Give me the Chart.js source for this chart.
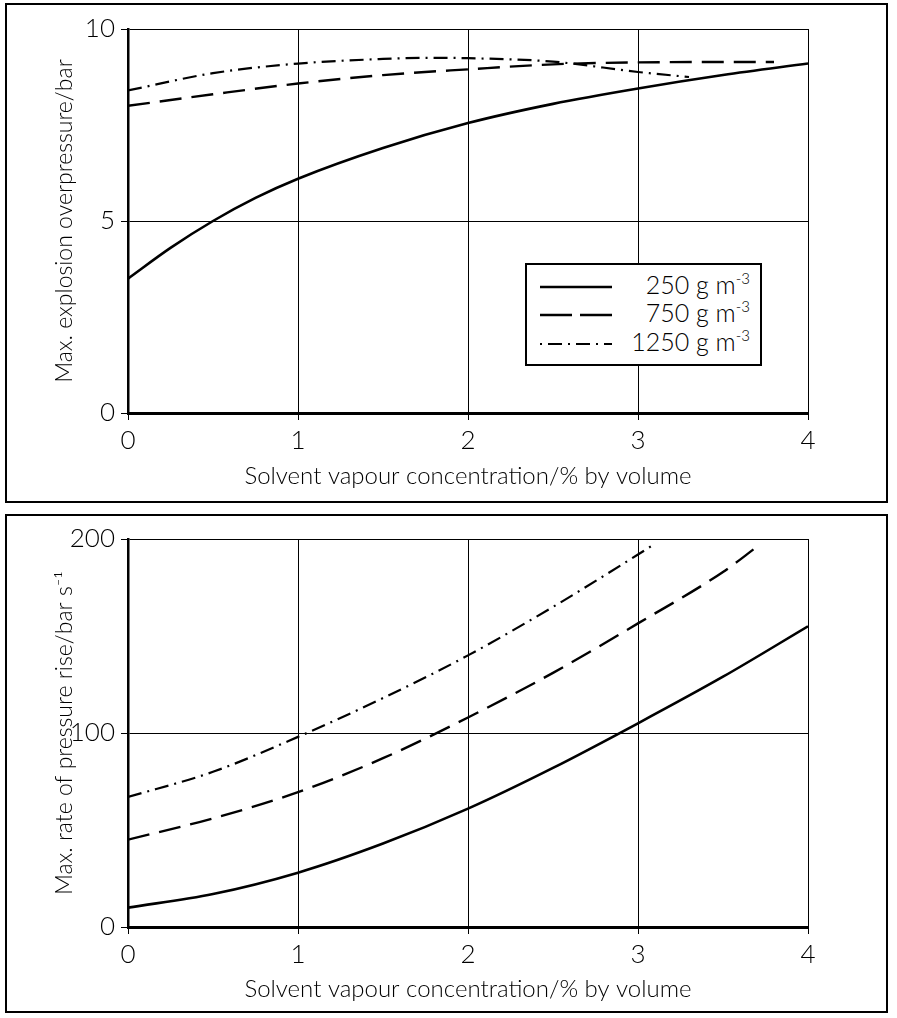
<!DOCTYPE html>
<html><head><meta charset="utf-8">
<script src="https://cdn.jsdelivr.net/npm/chart.js@4.4.1/dist/chart.umd.min.js"></script>
<style>
html,body{margin:0;padding:0;background:#fff;}
body{width:897px;height:1018px;position:relative;overflow:hidden;font-family:Lato,sans-serif;}
canvas{position:absolute;left:0;}
#c1{top:0;} #c2{top:510px;}
.frame{position:absolute;border:2px solid #000;pointer-events:none;}
#legend{position:absolute;left:525px;top:263px;width:233px;height:99px;border:2px solid #000;background:#fff;}
.row{position:absolute;left:0;width:100%;height:28px;}
.row svg{position:absolute;left:13px;top:0;}
.row span{position:absolute;right:10px;top:-3px;font-size:25px;font-weight:300;line-height:28px;color:#000;}
.row sup{font-size:15px;vertical-align:10px;line-height:0;}
</style></head>
<body>
<canvas id="c1" width="897" height="510"></canvas>
<canvas id="c2" width="897" height="508"></canvas>
<div class="frame" style="left:5px;top:3px;width:879px;height:496px;"></div>
<div class="frame" style="left:5px;top:514px;width:879px;height:495px;"></div>
<div id="legend">
  <div class="row" style="top:8px"><svg width="72" height="28"><line x1="0" y1="14" x2="72" y2="14" stroke="#000" stroke-width="2.5"/></svg><span>250 g m<sup>-3</sup></span></div>
  <div class="row" style="top:36px"><svg width="72" height="28"><line x1="0" y1="14" x2="72" y2="14" stroke="#000" stroke-width="2.5" stroke-dasharray="32,8"/></svg><span>750 g m<sup>-3</sup></span></div>
  <div class="row" style="top:65px"><svg width="72" height="28"><line x1="0" y1="14" x2="72" y2="14" stroke="#000" stroke-width="2" stroke-dasharray="2,6,14,6"/></svg><span>1250 g m<sup>-3</sup></span></div>
</div>
<script>
// ---- data ----
const xTickValues = [0, 1, 2, 3, 4];
const seriesLabels = ['250 g m-3', '750 g m-3', '1250 g m-3'];

// Top: max explosion overpressure (bar)
const xTop250  = [0, 0.25, 0.5, 0.75, 1, 1.5, 2, 2.5, 3, 3.5, 4];
const pTop250  = [3.5, 4.3, 5.0, 5.6, 6.1, 6.9, 7.55, 8.05, 8.45, 8.8, 9.1];
const xTop750  = [0, 0.5, 1, 1.5, 2, 2.5, 3, 3.5, 3.8];
const pTop750  = [8.0, 8.3, 8.58, 8.8, 8.95, 9.08, 9.13, 9.14, 9.14];
const xTop1250 = [0, 0.5, 1, 1.5, 1.75, 2, 2.5, 3, 3.3];
const pTop1250 = [8.4, 8.85, 9.1, 9.22, 9.25, 9.24, 9.15, 8.88, 8.75];

// Bottom: max rate of pressure rise (bar/s)
const xBot250  = [0, 0.5, 1, 1.5, 2, 2.5, 3, 3.5, 4];
const rBot250  = [10, 17, 28, 43, 61, 82, 105, 129, 155];
const xBot750  = [0, 0.5, 1, 1.5, 2, 2.5, 3, 3.5, 3.7];
const rBot750  = [45, 56, 69.5, 87, 108, 131, 156.5, 183, 196];
const xBot1250 = [0, 0.5, 1, 1.5, 2, 2.5, 3, 3.09];
const rBot1250 = [67, 80, 98, 118, 140, 165, 192, 197];

const xTitle = 'Solvent vapour concentration/% by volume';
const yTitleTop = 'Max. explosion overpressure/bar';
const yTitleBot = 'Max. rate of pressure rise/bar s\u207B\u00B9';

// ---- styles ----
const dashes = [[], [22, 10], [14, 6, 2, 6]];
const widths = [2.6, 2.4, 2.2];
const FONT = 'Lato, sans-serif';

function pts(xs, ys){ return xs.map((x,i)=>({x:x, y:ys[i]})); }

function makeChart(id, seriesX, seriesY, yMax, yStep, yTitle, canvasH, plotBottom, xTitlePad){
  const datasets = seriesX.map((xs,i)=>({
    label: seriesLabels[i],
    data: pts(xs, seriesY[i]),
    borderColor:'#000', borderWidth: widths[i], borderDash: dashes[i],
    pointRadius:0, fill:false, cubicInterpolationMode:'monotone'
  }));
  const xH = 80;
  new Chart(document.getElementById(id), {
    type:'line',
    data:{datasets},
    options:{
      responsive:false, animation:false, devicePixelRatio:1,
      layout:{padding:{left:0, right:89, top:29, bottom: canvasH - plotBottom - xH}},
      plugins:{legend:{display:false}, tooltip:{enabled:false}},
      scales:{
        x:{type:'linear', min:0, max:4,
           afterBuildTicks:(s)=>{ s.ticks = xTickValues.map(v=>({value:v})); },
           afterFit:(s)=>{ s.height = xH; },
           ticks:{color:'#000', font:{family:FONT, size:26, weight:'300'}, padding:5},
           grid:{color:'#000', lineWidth:1, tickLength:7},
           border:{color:'#000', width:3},
           title:{display:true, text:xTitle, color:'#000', font:{family:FONT, size:24, weight:'300'}, padding:{top:0,bottom:xTitlePad}}
        },
        y:{type:'linear', min:0, max:yMax,
           afterFit:(s)=>{ s.width = 128; },
           ticks:{stepSize:yStep, color:'#000', font:{family:FONT, size:26, weight:'300'}, padding:6},
           grid:{color:'#000', lineWidth:1, tickLength:7},
           border:{color:'#000', width:2.5},
           title:{display:true, text:yTitle, color:'#000', font:{family:FONT, size:23, weight:'300'}, padding:{top:51,bottom:0}}
        }
      }
    }
  });
}

makeChart('c1', [xTop250, xTop750, xTop1250], [pTop250, pTop750, pTop1250], 10, 5, yTitleTop, 510, 413, 2);
makeChart('c2', [xBot250, xBot750, xBot1250], [rBot250, rBot750, rBot1250], 200, 100, yTitleBot, 508, 417, 3);
</script>
</body></html>
